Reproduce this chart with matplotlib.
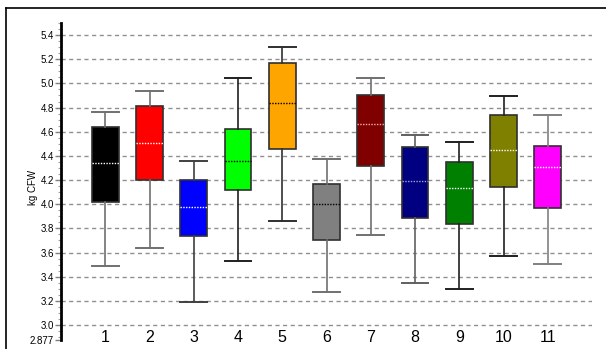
import matplotlib
matplotlib.use("Agg")
import matplotlib.pyplot as plt
from matplotlib.lines import Line2D
from matplotlib.ticker import MultipleLocator

plt.rcParams['font.family'] = ['Liberation Sans', 'DejaVu Sans']

# Five-number summaries per group (kg CFW)
groups = ['1', '2', '3', '4', '5', '6', '7', '8', '9', '10', '11']
whislo = [3.485, 3.64, 3.193, 3.529, 3.863, 3.273, 3.744, 3.35, 3.297, 3.568, 3.504]
q1 = [4.015, 4.197, 3.736, 4.114, 4.454, 3.708, 4.318, 3.882, 3.835, 4.139, 3.97]
med = [4.338, 4.509, 3.976, 4.354, 4.834, 3.998, 4.663, 4.194, 4.131, 4.445, 4.31]
q3 = [4.636, 4.81, 4.2, 4.624, 5.166, 4.169, 4.903, 4.473, 4.346, 4.738, 4.478]
whishi = [4.765, 4.936, 4.354, 5.041, 5.303, 4.371, 5.041, 4.569, 4.517, 4.895, 4.74]

box_colors = ['#000000', '#ff0000', '#0000ff', '#00ff00', '#ffa500', '#808080',
              '#800000', '#000080', '#008000', '#808000', '#ff00ff']
median_colors = ['white', 'white', 'white', 'black', 'black', 'black',
                 '#f0b0b0', '#a0a8d0', 'white', 'white', 'white']
whisker_colors = ['#707070', '#707070', '#404040', '#202020', '#303030', '#707070',
                  '#707070', '#606060', '#202020', '#202020', '#808080']

yticks = [2.877, 3.0, 3.2, 3.4, 3.6, 3.8, 4.0, 4.2, 4.4, 4.6, 4.8, 5.0, 5.2, 5.4]
ytick_labels = ['2.877', '3.0', '3.2', '3.4', '3.6', '3.8', '4.0', '4.2', '4.4',
                '4.6', '4.8', '5.0', '5.2', '5.4']

fig = plt.figure(figsize=(6.06, 3.49), dpi=100)
ax = fig.add_axes([61 / 606, 1 - 339.9 / 349, 531 / 606, (339.9 - 23) / 349])

# outer frame (top and left edges)
fig.add_artist(Line2D([6 / 606, 6 / 606], [0, 1 - 8 / 349], color='black', lw=1.2,
                      transform=fig.transFigure))
fig.add_artist(Line2D([6 / 606, 1], [1 - 8 / 349, 1 - 8 / 349], color='black', lw=1.2,
                      transform=fig.transFigure))

stats = []
for i in range(len(groups)):
    stats.append(dict(whislo=whislo[i], q1=q1[i], med=med[i], q3=q3[i],
                      whishi=whishi[i], label=groups[i]))

positions = list(range(1, len(groups) + 1))
bp = ax.bxp(stats, positions=positions, widths=0.6, capwidths=0.6,
            patch_artist=True, showfliers=False, zorder=3)

for i, patch in enumerate(bp['boxes']):
    patch.set_facecolor(box_colors[i])
    patch.set_edgecolor('#303030')
    patch.set_linewidth(1.2)
for i, m in enumerate(bp['medians']):
    m.set_color(median_colors[i])
    m.set_linestyle((0, (1, 1)))
    m.set_linewidth(1.0)
for i in range(len(groups)):
    for w in bp['whiskers'][2 * i:2 * i + 2]:
        w.set_color(whisker_colors[i])
        w.set_linewidth(1.2)
    for c in bp['caps'][2 * i:2 * i + 2]:
        c.set_color(whisker_colors[i])
        c.set_linewidth(1.4)

ax.set_xlim(0, 12)
ax.set_ylim(2.877, 5.5)

ax.set_yticks(yticks)
ax.set_yticklabels(ytick_labels, fontsize=7)
ax.yaxis.set_minor_locator(MultipleLocator(0.05))
ax.tick_params(axis='y', which='major', length=4, width=1, color='#808080', pad=1)
ax.tick_params(axis='y', which='minor', length=2, width=0.8, color='#a0a0a0')

ax.set_xticks(positions)
ax.set_xticklabels(groups, fontsize=11.5)
ax.tick_params(axis='x', length=0, pad=-7)

for yv in yticks[1:]:
    ax.axhline(yv, color='#909090', lw=1.0, ls=(0, (3, 2.5)), zorder=1)

for s in ['top', 'right', 'bottom']:
    ax.spines[s].set_visible(False)
ax.spines['left'].set_linewidth(2)
ax.spines['left'].set_color('black')

ax.set_ylabel('kg CFW', fontsize=7)
ax.yaxis.set_label_coords(-0.043, 0.48)

fig.savefig('out.png', dpi=100)
